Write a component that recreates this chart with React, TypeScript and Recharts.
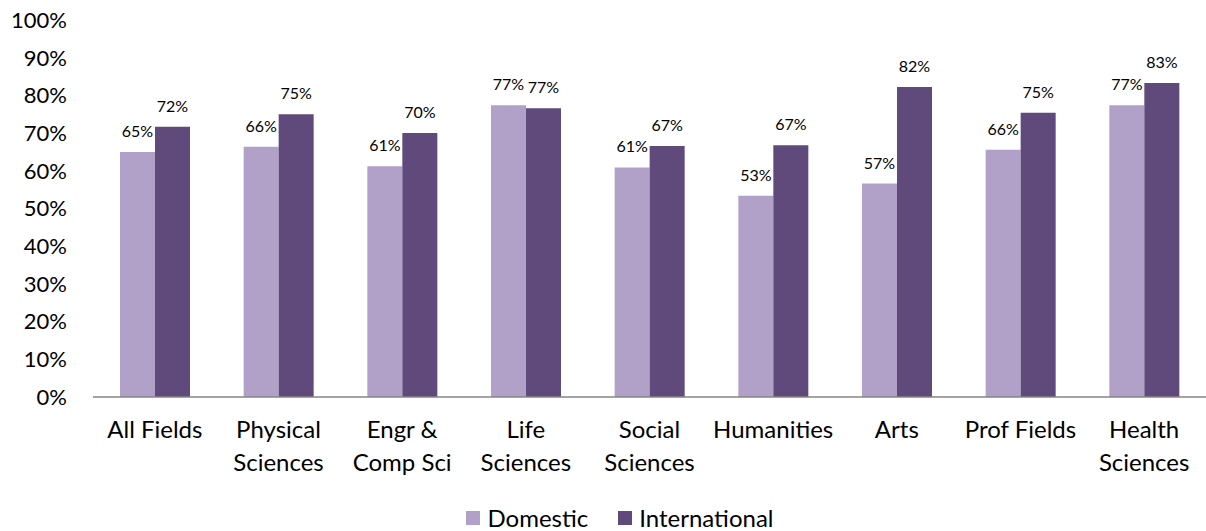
import { BarChart, Bar, XAxis, YAxis, Legend, LabelList } from 'recharts'

const fields = [
  'All Fields',
  'Physical\nSciences',
  'Engr &\nComp Sci',
  'Life\nSciences',
  'Social\nSciences',
  'Humanities',
  'Arts',
  'Prof Fields',
  'Health\nSciences',
]
const domestic = [65, 66.4, 61.2, 77.4, 60.9, 53.4, 56.6, 65.6, 77.4]
const international = [71.7, 75.0, 70.0, 76.6, 66.6, 66.8, 82.2, 75.4, 83.3]
const yTicks = [0, 10, 20, 30, 40, 50, 60, 70, 80, 90, 100]

const data = fields.map((field, i) => ({
  field,
  domestic: domestic[i],
  international: international[i],
}))

const FONT = 'Lato, "Open Sans", sans-serif'
const LIGHT = '#B1A0C7'
const DARK = '#604A7B'

function FieldTick(props: any) {
  const { x, y, payload } = props
  const lines = String(payload.value).split('\n')
  return (
    <text x={x} y={y + 41} textAnchor="middle" fill="#000" fontSize={24} fontFamily={FONT}>
      {lines.map((l, i) => (
        <tspan key={i} x={x} dy={i === 0 ? 0 : 33}>
          {l}
        </tspan>
      ))}
    </text>
  )
}

function LegendBox(props: any) {
  const items = props.payload || []
  return (
    <div style={{ display: 'flex', justifyContent: 'center', gap: 30, fontFamily: FONT, fontSize: 24, lineHeight: '26px', color: '#000', paddingLeft: 34 }}>
      {items.map((it: any) => (
        <div key={it.value} style={{ display: 'flex', alignItems: 'center' }}>
          <span style={{ width: 14, height: 14, background: it.color, display: 'inline-block', marginRight: 7 }} />
          <span>{it.value}</span>
        </div>
      ))}
    </div>
  )
}

const pct = (v: any) => `${Math.round(Number(v))}%`

export default function App() {
  return (
    <div style={{ position: 'absolute', left: 0, top: 0, background: '#fff' }}>
      <BarChart
        width={1206}
        height={531}
        data={data}
        margin={{ top: 20, right: 0, left: 0, bottom: 0 }}
        barGap={0}
        barSize={35}
      >
        <XAxis
          dataKey="field"
          height={108}
          tickLine={false}
          tickSize={0}
          tickMargin={0}
          axisLine={{ stroke: '#868686', strokeWidth: 1.5 }}
          tick={<FieldTick />}
          interval={0}
        />
        <YAxis
          width={93}
          domain={[0, 100]}
          ticks={yTicks}
          tickFormatter={(v) => `${v}%`}
          axisLine={false}
          tickLine={false}
          tickSize={0}
          tickMargin={26}
          tick={{ fill: '#000', fontSize: 22, fontFamily: FONT }}
        />
        <Legend verticalAlign="bottom" height={26} content={<LegendBox />} />
        <Bar dataKey="domestic" name="Domestic" fill={LIGHT} isAnimationActive={false}>
          <LabelList dataKey="domestic" position="top" offset={15} formatter={pct} fill="#000" fontSize={16} fontFamily={FONT} />
        </Bar>
        <Bar dataKey="international" name="International" fill={DARK} isAnimationActive={false}>
          <LabelList dataKey="international" position="top" offset={15} formatter={pct} fill="#000" fontSize={16} fontFamily={FONT} />
        </Bar>
      </BarChart>
    </div>
  )
}
